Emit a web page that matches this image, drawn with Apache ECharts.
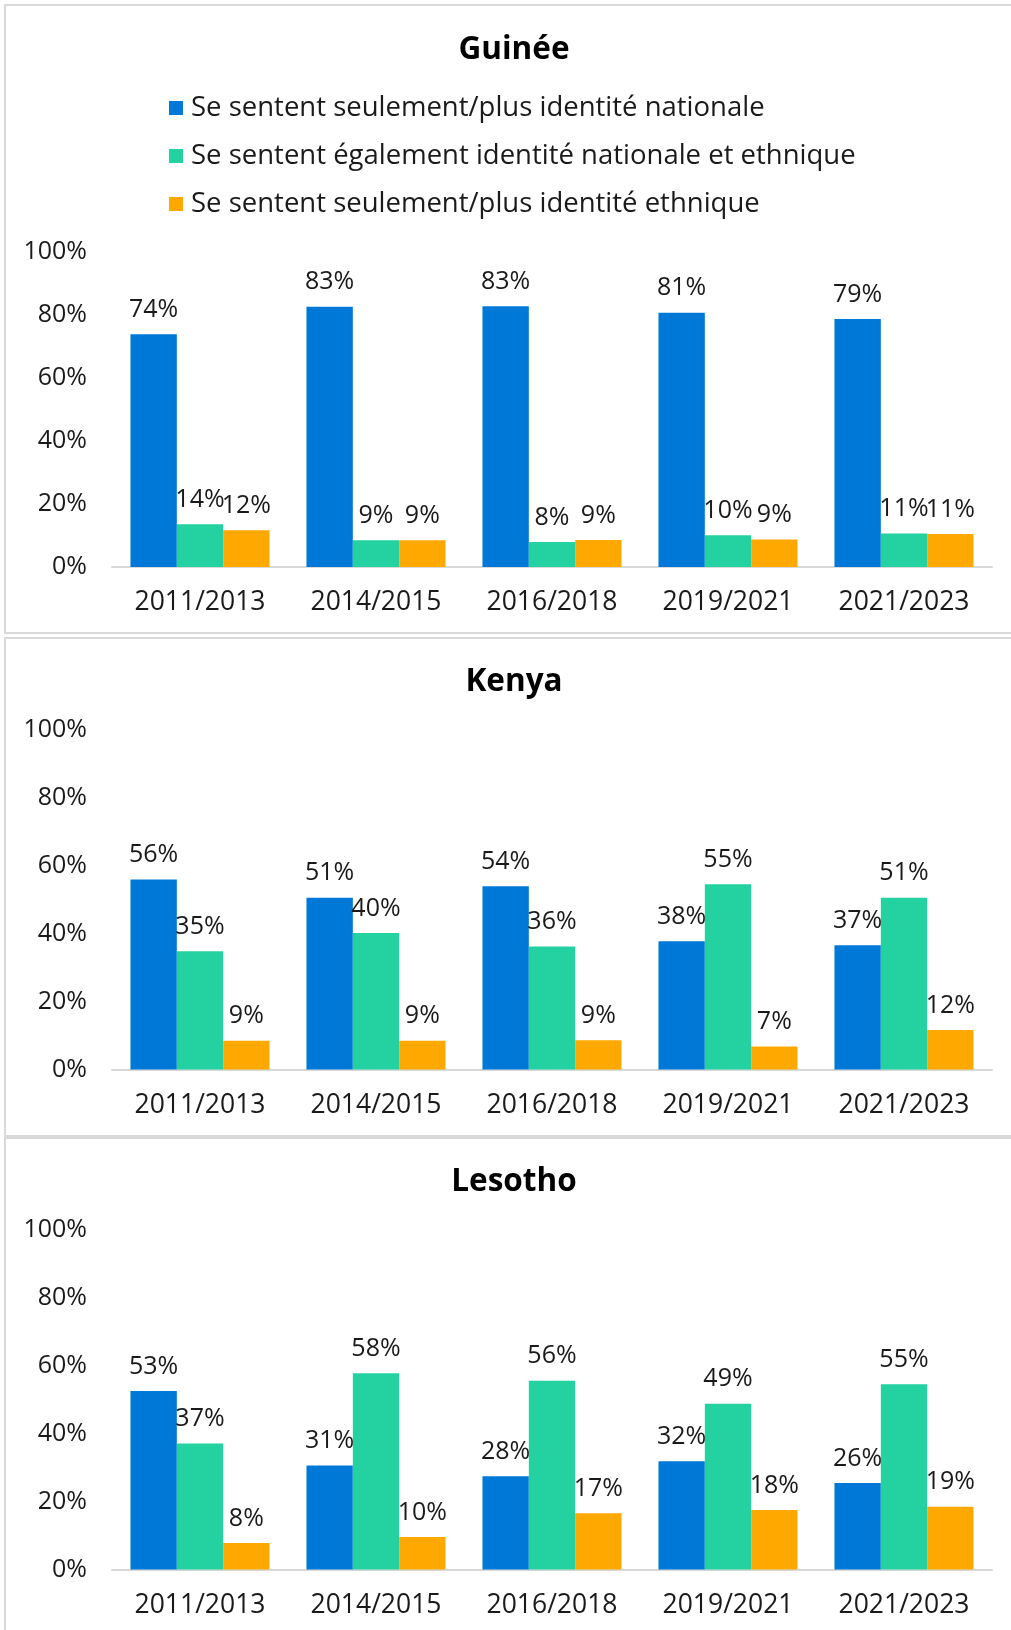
<!DOCTYPE html>
<html><head><meta charset="utf-8">
<script src="https://cdn.jsdelivr.net/npm/echarts@6/dist/echarts.min.js"></script>
<style>html,body{margin:0;padding:0;background:#fff;overflow:hidden}#c{width:1011px;height:1630px}</style>
</head><body><div id="c"></div>
<script>
const categories = ['2011/2013', '2014/2015', '2016/2018', '2019/2021', '2021/2023'];
const seriesNames = [
  'Se sentent seulement/plus identité nationale',
  'Se sentent également identité nationale et ethnique',
  'Se sentent seulement/plus identité ethnique'
];
const countries = ['Guinée', 'Kenya', 'Lesotho'];
const yTicks = [0, 20, 40, 60, 80, 100];

const guineeNational = [73.9, 82.6, 82.8, 80.7, 78.7];
const guineeBoth     = [13.6, 8.5, 7.9, 10.1, 10.6];
const guineeEthnic   = [11.7, 8.5, 8.6, 8.7, 10.5];

const kenyaNational = [56.0, 50.6, 54.0, 37.8, 36.6];
const kenyaBoth     = [34.8, 40.2, 36.2, 54.6, 50.6];
const kenyaEthnic   = [8.5, 8.5, 8.6, 6.8, 11.6];

const lesothoNational = [52.6, 30.6, 27.5, 31.9, 25.5];
const lesothoBoth     = [37.1, 57.8, 55.6, 48.8, 54.6];
const lesothoEthnic   = [7.8, 9.6, 16.6, 17.5, 18.5];

const colors = ['#0078d7', '#24d1a1', '#ffa800'];
const FONT = 'Open Sans';

const panelData = [
  [guineeNational, guineeBoth, guineeEthnic],
  [kenyaNational, kenyaBoth, kenyaEthnic],
  [lesothoNational, lesothoBoth, lesothoEthnic]
];
const gridTops = [252, 730, 1230];
const gridHeights = [315, 339.5, 339.5];
const titleTops = [34, 666, 1166];
const panels = [[5, 5, 1020, 628], [5, 638, 1020, 498], [5, 1138, 1020, 520]];

const grids = [], xAxes = [], yAxes = [], series = [], titles = [];
for (let p = 0; p < 3; p++) {
  grids.push({ left: 112, width: 880, top: gridTops[p], height: gridHeights[p] });
  titles.push({
    text: countries[p], left: 514, top: titleTops[p], textAlign: 'center', padding: 0,
    textStyle: { fontFamily: FONT, fontSize: 31.5, fontWeight: 'bold', color: '#000' }
  });
  xAxes.push({
    type: 'category', gridIndex: p, data: categories,
    axisLine: { lineStyle: { color: '#d9d9d9', width: 2 } },
    axisTick: { show: false },
    axisLabel: { fontFamily: FONT, fontSize: 26.5, color: '#1a1a1a', margin: 22 }
  });
  yAxes.push({
    type: 'value', gridIndex: p, min: 0, max: 100, interval: 20,
    splitLine: { show: false }, axisLine: { show: false }, axisTick: { show: false },
    axisLabel: { fontFamily: FONT, fontSize: 25, color: '#1a1a1a', margin: 25, formatter: '{value}%' }
  });
  for (let s = 0; s < 3; s++) {
    series.push({
      name: seriesNames[s], type: 'bar', xAxisIndex: p, yAxisIndex: p,
      data: panelData[p][s], barGap: '0%', barCategoryGap: '21%',
      itemStyle: { color: colors[s] },
      label: {
        show: true, position: 'top', distance: 12,
        fontFamily: FONT, fontSize: 25, color: '#1a1a1a',
        formatter: (v) => Math.round(v.value) + '%'
      }
    });
  }
}

const chart = echarts.init(document.getElementById('c'), null, { renderer: 'canvas' });
chart.setOption({
  backgroundColor: '#fff',
  animation: false,
  color: colors,
  title: titles,
  legend: {
    orient: 'vertical', left: 169, top: 94, itemWidth: 14, itemHeight: 14, itemGap: 20,
    icon: 'rect', padding: 0, data: seriesNames,
    textStyle: { fontFamily: FONT, fontSize: 27.5, color: '#1a1a1a', padding: [0, 0, 0, 3] }
  },
  grid: grids, xAxis: xAxes, yAxis: yAxes, series: series,
  graphic: panels.map(r => ({
    type: 'rect', z: -10, silent: true,
    shape: { x: r[0], y: r[1], width: r[2], height: r[3] },
    style: { fill: 'none', stroke: '#d9d9d9', lineWidth: 2 }
  }))
});
</script></body></html>
